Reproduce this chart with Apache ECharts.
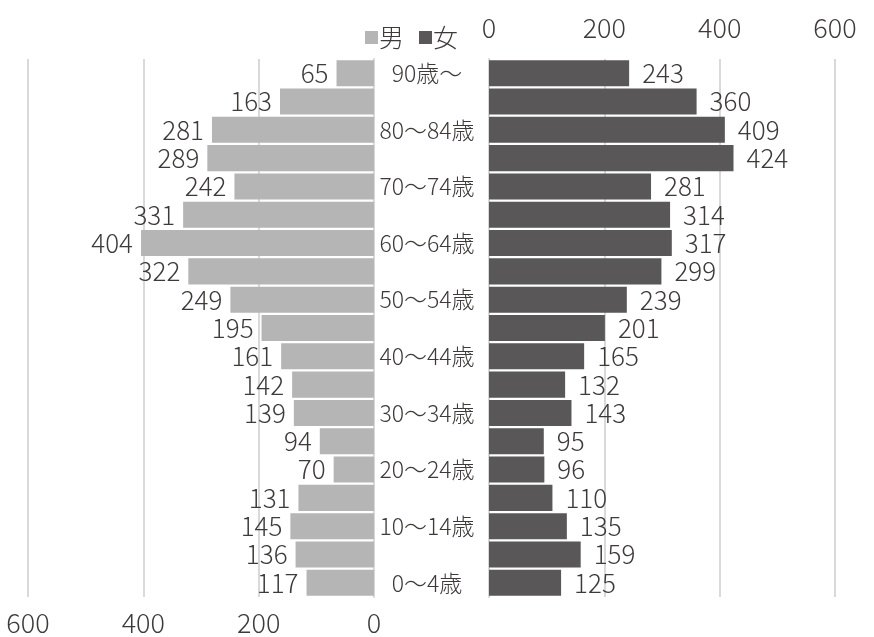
<!DOCTYPE html>
<html>
<head>
<meta charset="utf-8">
<script src="https://cdn.jsdelivr.net/npm/echarts@6/dist/echarts.min.js"></script>
<style>
html,body{margin:0;padding:0;background:#fff;}
#main{width:874px;height:637px;}
</style>
</head>
<body>
<div id="main"></div>
<script>
// 年齢階級（下から上）
var ages = ['0～4歳','5～9歳','10～14歳','15～19歳','20～24歳','25～29歳','30～34歳','35～39歳','40～44歳','45～49歳',
	'50～54歳','55～59歳','60～64歳','65～69歳','70～74歳','75～79歳','80～84歳','85～89歳','90歳～'];
var male = [117,136,145,131,70,94,139,142,161,195,249,322,404,331,242,289,281,163,65];
var female = [125,159,135,110,96,95,143,132,165,201,239,299,317,314,281,424,409,360,243];
var ticks = [0,200,400,600];

var txt = '#3e3a39';
var fnt = '"Noto Sans CJK JP", "Noto Sans", sans-serif';
var fw = 300;
var myChart = echarts.init(document.getElementById('main'));

var option = {
	backgroundColor:'#fff',
	textStyle:{fontFamily:fnt,color:txt},
	animation:false,
	legend:{
		left:360, top:20,
		itemWidth:13, itemHeight:13, itemGap:15,
		icon:'rect',
		textStyle:{fontSize:25,color:txt,fontFamily:fnt,fontWeight:fw,padding:[0,0,0,-4]},
		data:['男','女']
	},
	grid:[
		{left:28, right:500, top:59, bottom:40},
		{left:489, right:39, top:59, bottom:40}
	],
	xAxis:[
		{
			gridIndex:0, type:'value', inverse:true, min:ticks[0], max:ticks[3], interval:200, position:'bottom',
			axisLine:{show:false}, axisTick:{show:false},
			splitLine:{lineStyle:{color:'#d9d9d9',width:2}},
			axisLabel:{fontSize:27,color:txt,margin:12,fontFamily:fnt,fontWeight:fw}
		},
		{
			gridIndex:1, type:'value', min:ticks[0], max:ticks[3], interval:200, position:'top',
			axisLine:{show:false}, axisTick:{show:false},
			splitLine:{lineStyle:{color:'#d9d9d9',width:2}},
			axisLabel:{fontSize:27,color:txt,margin:18,fontFamily:fnt,fontWeight:fw}
		}
	],
	yAxis:[
		{
			gridIndex:0, type:'category', data:ages, position:'right',
			axisLine:{lineStyle:{color:'#d9d9d9',width:2}}, axisTick:{show:false},
			axisLabel:{interval:1, align:'center', margin:53, fontSize:23, color:txt, fontFamily:fnt, fontWeight:fw}
		},
		{
			gridIndex:1, type:'category', data:ages, position:'left',
			axisLine:{lineStyle:{color:'#d9d9d9',width:2}}, axisTick:{show:false},
			axisLabel:{show:false}
		}
	],
	series:[
		{
			name:'男', type:'bar', xAxisIndex:0, yAxisIndex:0, data:male,
			barCategoryGap:'8%',
			itemStyle:{color:'#b5b5b5'},
			label:{show:true, position:'left', distance:8, fontSize:26, color:txt, fontFamily:fnt, fontWeight:fw}
		},
		{
			name:'女', type:'bar', xAxisIndex:1, yAxisIndex:1, data:female,
			barCategoryGap:'8%',
			itemStyle:{color:'#595757'},
			label:{show:true, position:'right', distance:13, fontSize:26, color:txt, fontFamily:fnt, fontWeight:fw}
		}
	]
};
myChart.setOption(option);
</script>
</body>
</html>
